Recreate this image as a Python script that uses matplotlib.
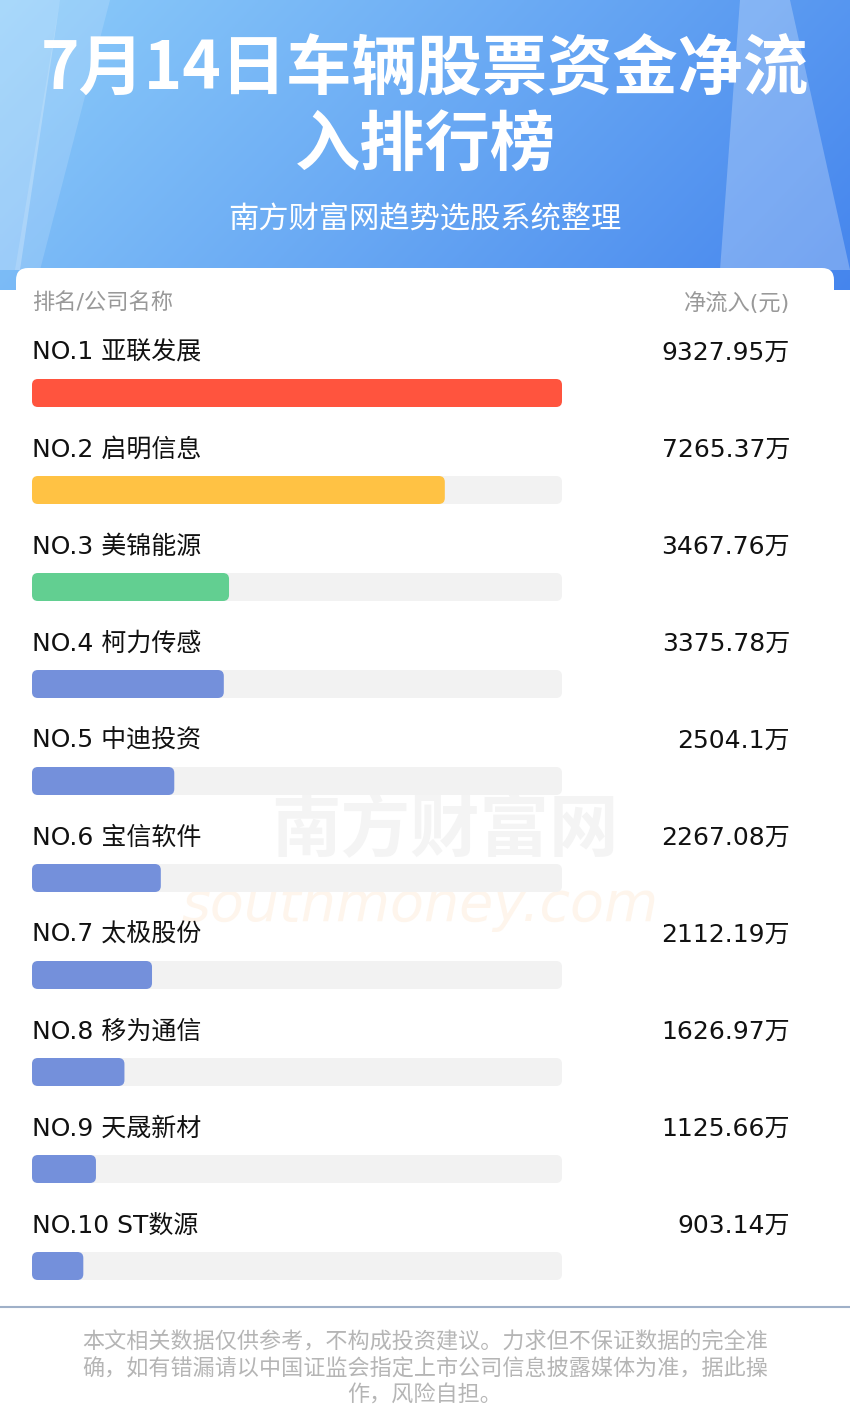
import numpy as np
import matplotlib

matplotlib.use("Agg")
import matplotlib.pyplot as plt
from matplotlib.patches import FancyBboxPatch, Polygon

plt.rcParams["font.family"] = ["DejaVu Sans", "Noto Sans CJK SC"]

names = ["亚联发展", "启明信息", "美锦能源", "柯力传感", "中迪投资",
         "宝信软件", "太极股份", "移为通信", "天晟新材", "ST数源"]
values = [9327.95, 7265.37, 3467.76, 3375.78, 2504.1,
          2267.08, 2112.19, 1626.97, 1125.66, 903.14]
value_labels = ["9327.95万", "7265.37万", "3467.76万", "3375.78万", "2504.1万",
                "2267.08万", "2112.19万", "1626.97万", "1125.66万", "903.14万"]
colors = ["#ff543e", "#ffc244", "#62cf91"] + ["#7490db"] * 7

W, H = 850, 1410
fig = plt.figure(figsize=(8.5, 14.1), dpi=100)
ax = fig.add_axes([0, 0, 1, 1])
ax.set_xlim(0, W)
ax.set_ylim(H, 0)
ax.axis("off")

# header gradient
gx = np.linspace(0, 1, 300)
gy = np.linspace(0, 1, 100)
X, Y = np.meshgrid(gx, gy)
t = np.clip(0.75 * X + 0.25 * Y, 0, 1)
c0 = np.array([0.55, 0.80, 0.98])
c1 = np.array([0.27, 0.52, 0.93])
img = c0[None, None, :] * (1 - t[..., None]) + c1[None, None, :] * t[..., None]
ax.imshow(img, extent=[0, W, 300, 0], aspect="auto", zorder=0)
for pts, a in [([(0, 0), (60, 0), (20, 270), (0, 270)], 0.25),
               ([(740, 0), (790, 0), (850, 270), (720, 270)], 0.25),
               ([(60, 0), (110, 0), (40, 270), (15, 270)], 0.15)]:
    ax.add_patch(Polygon(pts, closed=True, color="white", alpha=a, zorder=1, lw=0))

title_font = ["Noto Sans CJK SC"]
ax.text(425, 70, "7月14日车辆股票资金净流", ha="center", va="center", family=title_font,
        fontsize=47, fontweight="bold", color="white", zorder=3)
ax.text(425, 145, "入排行榜", ha="center", va="center", family=title_font,
        fontsize=47, fontweight="bold", color="white", zorder=3)
ax.text(425, 220, "南方财富网趋势选股系统整理", ha="center", va="center", family=title_font,
        fontsize=21.8, color="white", zorder=3)

# white area
ax.add_patch(FancyBboxPatch((16, 268), 818, 1200, boxstyle="round,pad=0,rounding_size=12",
                            fc="white", ec="none", zorder=2))
ax.add_patch(plt.Rectangle((0, 290), W, H - 290, fc="white", ec="none", zorder=1.5))

ax.text(32, 303, "排名/公司名称", ha="left", va="center", fontsize=16, color="#999999", zorder=3)
ax.text(790, 303, "净流入(元)", ha="right", va="center", fontsize=16, color="#999999", zorder=3)

# watermark
ax.text(445, 830, "南方财富网", ha="center", va="center", fontsize=50, family=title_font,
        color="#f4f4f4", zorder=2.5, fontweight="bold")
ax.text(420, 905, "southmoney.com", ha="center", va="center", fontsize=40,
        color="#fef5ec", style="italic", zorder=2.5)

x0, track = 32, 530
vmax = max(values)
for i, (n, v, lab, c) in enumerate(zip(names, values, value_labels, colors)):
    ty = 353 + 97 * i
    by = 393 + 97 * i
    ax.text(32, ty, f"NO.{i + 1} {n}", ha="left", va="center", fontsize=18, color="#111111", zorder=3)
    ax.text(790, ty, lab, ha="right", va="center", fontsize=18, color="#111111", zorder=3)
    ax.add_patch(FancyBboxPatch((x0, by - 14), track, 28, boxstyle="round,pad=0,rounding_size=6",
                                fc="#f2f2f2", ec="none", zorder=3))
    ax.add_patch(FancyBboxPatch((x0, by - 14), v / vmax * track, 28,
                                boxstyle="round,pad=0,rounding_size=6",
                                fc=c, ec="none", zorder=4))

ax.plot([0, W], [1307, 1307], color="#9fb0c8", lw=1.5, zorder=3)
foot = ["本文相关数据仅供参考，不构成投资建议。力求但不保证数据的完全准",
        "确，如有错漏请以中国证监会指定上市公司信息披露媒体为准，据此操",
        "作，风险自担。"]
for k, s in enumerate(foot):
    ax.text(425, 1342 + 27 * k, s, ha="center", va="center", fontsize=15.9, color="#b5b5b5",
            family=title_font, zorder=3)

fig.savefig("out.png", dpi=100)
